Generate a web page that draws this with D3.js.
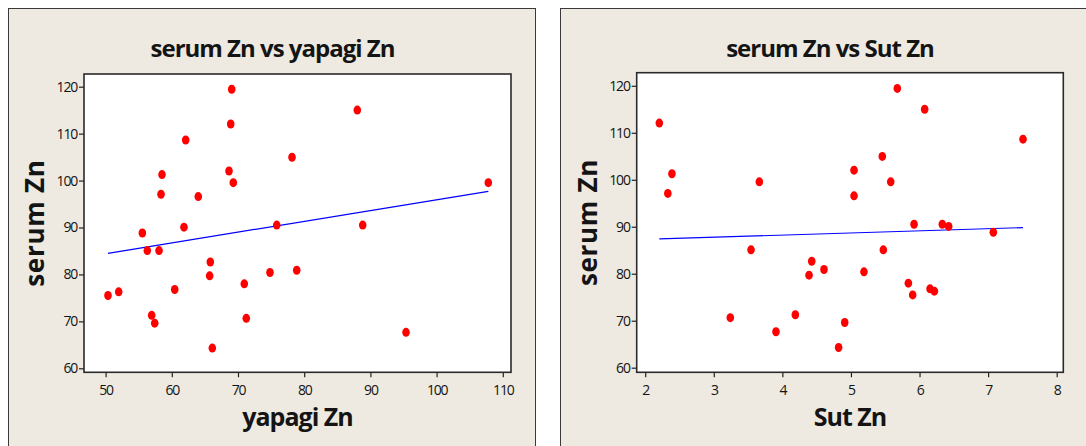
<!DOCTYPE html>
<html>
<head>
<meta charset="utf-8">
<script src="https://cdn.jsdelivr.net/npm/d3@7"></script>
<style>
  html, body { margin: 0; padding: 0; background: #fff; }
  svg { display: block; }
  text { fill: #141414; }
</style>
</head>
<body>
<svg id="chart" width="1086" height="446"></svg>
<script>
// Serum zinc against fleece (yapagi) zinc and milk (Sut) zinc, one row per animal
const serumZn  = [119.45, 112.06, 108.65, 104.97, 101.27, 102.05, 99.56, 97.09, 96.58, 88.82,
                  90.07, 90.52, 115.01, 99.56, 90.52, 85.08, 85.08, 82.65, 79.70, 80.40,
                  80.90, 75.50, 76.29, 76.78, 77.99, 71.28, 69.62, 70.65, 64.30, 67.66];
const yapagiZn = [69.05, 68.90, 62.10, 78.16, 58.52, 68.64, 69.29, 58.37, 64.00, 55.55,
                  61.84, 75.85, 88.02, 107.81, 88.84, 56.30, 58.07, 65.82, 65.72, 74.83,
                  78.87, 50.36, 51.98, 60.44, 70.95, 56.96, 57.42, 71.25, 66.12, 95.38];
const sutZn    = [5.676, 2.206, 7.509, 5.457, 2.390, 5.045, 3.664, 2.330, 5.045, 7.076,
                  6.425, 5.920, 6.075, 5.580, 6.332, 3.543, 5.472, 4.428, 4.389, 5.190,
                  4.607, 5.900, 6.216, 6.153, 5.837, 4.189, 4.909, 3.241, 4.820, 3.907];

const serumTicks  = [60, 70, 80, 90, 100, 110, 120];
const yapagiTicks = [50, 60, 70, 80, 90, 100, 110];
const sutTicks    = [2, 3, 4, 5, 6, 7, 8];

const panels = [
  {
    title: "serum Zn vs yapagi Zn", xLabel: "yapagi Zn", yLabel: "serum Zn",
    xs: yapagiZn, xTicks: yapagiTicks, xDomain: [50, 110],
    box:  { x: 8.5, y: 8.5, w: 527, h: 470 }, titleX: 272.5,
    plot: { l: 84, t: 74, r: 511, b: 372.3 },
    xRange: [105.6, 502.8], yRange: [368.3, 86.7]
  },
  {
    title: "serum Zn vs Sut Zn", xLabel: "Sut Zn", yLabel: "serum Zn",
    xs: sutZn, xTicks: sutTicks, xDomain: [2, 8],
    box:  { x: 560.5, y: 8.5, w: 540, h: 470 }, titleX: 830,
    plot: { l: 636.7, t: 72.7, r: 1063.3, b: 372.3 },
    xRange: [645.2, 1056.7], yRange: [367.7, 85.8]
  }
];

const svg = d3.select("#chart");
svg.append("rect").attr("width", 1086).attr("height", 446).attr("fill", "#fff");

// ordinary least squares fit of serum Zn on the x variable
function fitLine(xs, ys) {
  const mx = d3.mean(xs), my = d3.mean(ys);
  let sxy = 0, sxx = 0;
  xs.forEach((x, i) => { sxy += (x - mx) * (ys[i] - my); sxx += (x - mx) * (x - mx); });
  const b = sxy / sxx;
  return { b, a: my - b * mx };
}

panels.forEach(p => {
  const g = svg.append("g");

  // panel background
  g.append("rect")
    .attr("x", p.box.x).attr("y", p.box.y)
    .attr("width", p.box.w).attr("height", p.box.h)
    .attr("fill", "#EEEAE1").attr("stroke", "#3a3a3a").attr("stroke-width", 1);

  // data region
  g.append("rect")
    .attr("x", p.plot.l).attr("y", p.plot.t)
    .attr("width", p.plot.r - p.plot.l).attr("height", p.plot.b - p.plot.t)
    .attr("fill", "#fff");

  const x = d3.scaleLinear().domain(p.xDomain).range(p.xRange);
  const y = d3.scaleLinear().domain([60, 120]).range(p.yRange);

  // title
  g.append("text")
    .attr("x", p.titleX).attr("y", 56.5)
    .attr("text-anchor", "middle")
    .style("font-family", "'Open Sans', sans-serif")
    .style("font-weight", 700).style("font-size", "24px")
    .style("letter-spacing", "-1px")
    .text(p.title);

  // axes
  const yAxis = g.append("g")
    .attr("transform", `translate(${p.plot.l},0)`)
    .call(d3.axisLeft(y).tickValues(serumTicks).tickSize(5).tickPadding(2)
      .tickFormat(d3.format("d")));
  const xAxis = g.append("g")
    .attr("transform", `translate(0,${p.plot.b})`)
    .call(d3.axisBottom(x).tickValues(p.xTicks).tickSize(5).tickPadding(8)
      .tickFormat(d3.format("d")));
  [xAxis, yAxis].forEach(ax => {
    ax.select(".domain").remove();
    ax.selectAll(".tick line").attr("stroke", "#222").attr("stroke-width", 1.2);
    ax.selectAll(".tick text")
      .attr("fill", "#141414")
      .style("font-family", "'Open Sans', sans-serif")
      .style("font-size", "14px")
      .style("letter-spacing", "-1.2px");
  });

  // regression line
  const fit = fitLine(p.xs, serumZn);
  const x0 = d3.min(p.xs), x1 = d3.max(p.xs);
  g.append("line")
    .attr("x1", x(x0)).attr("y1", y(fit.a + fit.b * x0))
    .attr("x2", x(x1)).attr("y2", y(fit.a + fit.b * x1))
    .attr("stroke", "#0000FF").attr("stroke-width", 1.2);

  // points
  g.append("g").selectAll("ellipse")
    .data(p.xs.map((v, i) => [v, serumZn[i]]))
    .join("ellipse")
    .attr("cx", d => x(d[0])).attr("cy", d => y(d[1]))
    .attr("rx", 3.8).attr("ry", 4.5)
    .attr("fill", "#FF0000");

  // frame
  g.append("rect")
    .attr("x", p.plot.l).attr("y", p.plot.t)
    .attr("width", p.plot.r - p.plot.l).attr("height", p.plot.b - p.plot.t)
    .attr("fill", "none").attr("stroke", "#2a2a2a").attr("stroke-width", 1.6);

  // axis titles
  g.append("text")
    .attr("x", (p.plot.l + p.plot.r) / 2).attr("y", 426)
    .attr("text-anchor", "middle")
    .style("font-family", "'Open Sans', sans-serif")
    .style("font-weight", 700).style("font-size", "25px")
    .style("letter-spacing", "-1px")
    .text(p.xLabel);
  g.append("text")
    .attr("transform", `translate(${p.plot.l - 40},${(p.plot.t + p.plot.b) / 2}) rotate(-90)`)
    .attr("text-anchor", "middle")
    .style("font-family", "'Open Sans', sans-serif")
    .style("font-weight", 700).style("font-size", "26px")
    .style("letter-spacing", "0.7px")
    .text(p.yLabel);
});
</script>
</body>
</html>
